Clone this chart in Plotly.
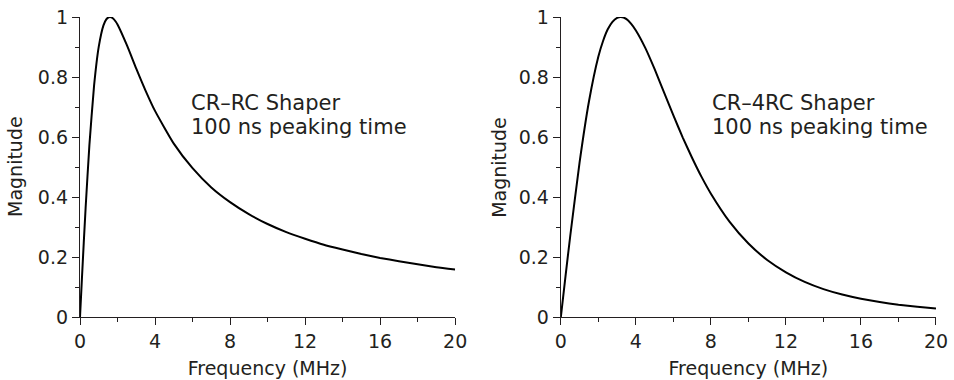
import plotly.graph_objects as go
from plotly.subplots import make_subplots

# CR-RC shaper (left panel)
freq_crrc = [0, 0.1, 0.2, 0.3, 0.5, 0.75, 1.0, 1.25, 1.4, 1.5, 1.6, 1.75, 1.9, 2.0, 2.5, 3, 3.5, 4,
             5, 6, 7, 8, 9, 10, 11, 12, 13, 14, 15, 16, 17, 18, 19, 20]
mag_crrc = [0, 0.125, 0.247, 0.364, 0.572, 0.771, 0.901, 0.972, 0.992, 0.998, 1.0, 0.996, 0.985,
            0.975, 0.906, 0.828, 0.754, 0.687, 0.578, 0.496, 0.432, 0.383, 0.343, 0.310, 0.283,
            0.261, 0.241, 0.225, 0.210, 0.197, 0.186, 0.176, 0.166, 0.158]

# CR-4RC shaper (right panel)
freq_cr4rc = [0, 0.25, 0.5, 1.0, 1.5, 2.0, 2.25, 2.5, 2.75, 3.0, 3.2, 3.5, 3.75, 4.0, 4.5, 5.0,
              5.5, 6.0, 6.5, 7.0, 7.5, 8, 9, 10, 11, 12, 13, 14, 15, 16, 17, 18, 19, 20]
mag_cr4rc = [0, 0.137, 0.270, 0.516, 0.719, 0.868, 0.920, 0.959, 0.984, 0.997, 1.0, 0.993, 0.977,
             0.955, 0.897, 0.826, 0.749, 0.672, 0.598, 0.530, 0.467, 0.411, 0.317, 0.245, 0.190,
             0.149, 0.117, 0.093, 0.075, 0.061, 0.050, 0.041, 0.034, 0.028]

label_line1 = ["CR\u2013RC Shaper", "CR\u20134RC Shaper"]
label_line2 = ["100 ns peaking time", "100 ns peaking time"]
label_x = [5.81, 7.96]
label_y1 = [0.714, 0.714]
label_y2 = [0.634, 0.634]

x_ticks = [0, 4, 8, 12, 16, 20]
y_ticks = [0, 0.2, 0.4, 0.6, 0.8, 1]

FONT = "DejaVu Sans"
TXT = "#231f20"

fig = make_subplots(rows=1, cols=2, horizontal_spacing=0.1235)

ytitle_shift = [-65, -62]

for i, (fx, my) in enumerate([(freq_crrc, mag_crrc), (freq_cr4rc, mag_cr4rc)]):
    fig.add_trace(go.Scatter(x=fx, y=my, mode="lines",
                             line=dict(color="black", width=2, shape="spline", smoothing=0.5),
                             cliponaxis=False, showlegend=False, hoverinfo="skip"),
                  row=1, col=i + 1)
    xr = "x" if i == 0 else "x2"
    yr = "y" if i == 0 else "y2"
    for txt, yy in ((label_line1[i], label_y1[i]), (label_line2[i], label_y2[i])):
        fig.add_annotation(x=label_x[i], y=yy, xref=xr, yref=yr, text=txt, showarrow=False,
                           xanchor="left", yanchor="middle", align="left",
                           font=dict(family=FONT, size=21, color=TXT))
    # y-axis title
    fig.add_annotation(x=0, y=0.5, xref=f"{xr} domain", yref=f"{yr} domain", text="Magnitude",
                       textangle=-90, showarrow=False, xanchor="center", yanchor="middle",
                       xshift=ytitle_shift[i], font=dict(family=FONT, size=19, color=TXT))

axis_common = dict(showline=True, linecolor=TXT, linewidth=1.3, ticks="outside",
                   ticklen=7, tickwidth=1.3, tickcolor=TXT, showgrid=False, zeroline=False,
                   automargin=False,
                   tickfont=dict(family=FONT, size=19, color=TXT),
                   title_font=dict(family=FONT, size=19, color=TXT))

for c in (1, 2):
    fig.update_xaxes(range=[0, 20], tickvals=x_ticks, title_text="Frequency (MHz)",
                     title_standoff=10,
                     minor=dict(dtick=2, ticklen=4, tickwidth=1.3, tickcolor=TXT, ticks="outside"),
                     **axis_common, row=1, col=c)
    fig.update_yaxes(range=[0, 1], tickvals=y_ticks,
                     minor=dict(dtick=0.1, ticklen=4, tickwidth=1.3, tickcolor=TXT, ticks="outside"),
                     **axis_common, row=1, col=c)

fig.update_layout(width=954, height=380, margin=dict(l=80, r=18, t=17, b=63),
                  plot_bgcolor="white", paper_bgcolor="white",
                  font=dict(family=FONT, color=TXT))

fig.write_html("out.html", config={"displayModeBar": False},
               post_script="document.body.style.margin='0px';")
